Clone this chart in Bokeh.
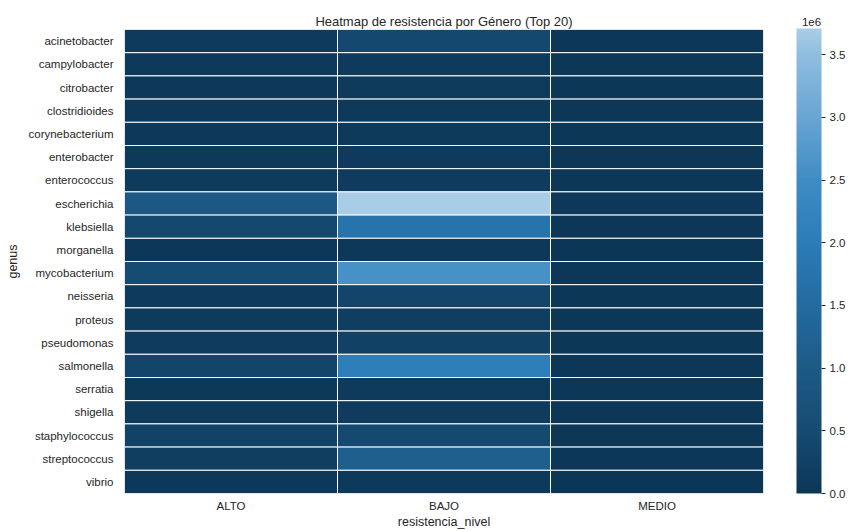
import numpy as np
from bokeh.plotting import figure
from bokeh.models import (ColumnDataSource, LinearColorMapper, ColorBar, FixedTicker,
                          CustomJSTickFormatter, Label)
from bokeh.embed import file_html
from bokeh.resources import INLINE

genera = ["acinetobacter", "campylobacter", "citrobacter", "clostridioides", "corynebacterium",
          "enterobacter", "enterococcus", "escherichia", "klebsiella", "morganella",
          "mycobacterium", "neisseria", "proteus", "pseudomonas", "salmonella",
          "serratia", "shigella", "staphylococcus", "streptococcus", "vibrio"]
levels = ["ALTO", "BAJO", "MEDIO"]

alto = [120000, 80000, 50000, 50000, 50000, 80000, 100000, 950000, 400000, 30000,
        500000, 120000, 100000, 150000, 350000, 60000, 100000, 300000, 200000, 50000]
bajo = [420000, 120000, 100000, 80000, 80000, 120000, 150000, 3710000, 1750000, 50000,
        2600000, 350000, 200000, 250000, 2050000, 100000, 150000, 450000, 1150000, 80000]
medio = [30000, 20000, 20000, 20000, 20000, 20000, 20000, 50000, 30000, 10000,
         30000, 20000, 20000, 20000, 40000, 20000, 20000, 20000, 30000, 10000]

cbar_ticks = [0, 500000, 1000000, 1500000, 2000000, 2500000, 3000000, 3500000]

# colour map (sampled from the reference colour bar)
anchor_cols = ["#0c3656", "#164c73", "#1d5a86", "#236ba0", "#2c7cb8",
               "#3f8cc4", "#68a5d3", "#8fbde0", "#a9cde6"]
anchor_pos = [0, 0.5, 1.0, 1.5, 2.0, 2.5, 3.0, 3.5, 3.71]


def hex2rgb(h):
    return [int(h[i:i + 2], 16) for i in (1, 3, 5)]


rgbs = np.array([hex2rgb(c) for c in anchor_cols], dtype=float)
pos = np.array(anchor_pos) / anchor_pos[-1]
grid = np.linspace(0, 1, 256)
palette = []
for g in grid:
    r = np.interp(g, pos, rgbs[:, 0])
    gg = np.interp(g, pos, rgbs[:, 1])
    b = np.interp(g, pos, rgbs[:, 2])
    palette.append("#%02x%02x%02x" % (int(round(r)), int(round(gg)), int(round(b))))

vmax = max(max(alto), max(bajo), max(medio))

xs, ys, vs = [], [], []
for i, gname in enumerate(genera):
    for lev, arr in zip(levels, (alto, bajo, medio)):
        xs.append(lev)
        ys.append(gname)
        vs.append(arr[i])
src = ColumnDataSource(dict(x=xs, y=ys, v=vs))

mapper = LinearColorMapper(palette=palette, low=0, high=vmax)

FONT = "Liberation Sans"
TXT = "#262626"

p = figure(x_range=levels, y_range=list(reversed(genera)), width=849, height=531,
           output_backend="svg", toolbar_location=None,
           title="Heatmap de resistencia por Género (Top 20)",
           min_border_left=124, min_border_right=86, min_border_top=29, min_border_bottom=37)

p.rect(x="x", y="y", width=1, height=1, source=src,
       fill_color={"field": "v", "transform": mapper},
       line_color="white", line_width=1)

p.title.align = "center"
p.title.text_font = FONT
p.title.text_font_size = "13px"
p.title.text_font_style = "normal"
p.title.text_color = TXT
p.title.standoff = 2

p.grid.visible = False
p.outline_line_color = None
for ax in (p.xaxis, p.yaxis):
    ax.axis_line_color = None
    ax.major_tick_line_color = None
    ax.minor_tick_line_color = None
    ax.major_tick_out = 0
    ax.major_tick_in = 0
    ax.major_label_text_font = FONT
    ax.major_label_text_font_size = "11.5px"
    ax.major_label_text_color = TXT
    ax.axis_label_text_font = FONT
    ax.axis_label_text_font_size = "12.5px"
    ax.axis_label_text_font_style = "normal"
    ax.axis_label_text_color = TXT

p.xaxis.axis_label = "resistencia_nivel"
p.yaxis.axis_label = "genus"
p.xaxis.major_label_standoff = 6
p.yaxis.major_label_standoff = 11
p.xaxis.axis_label_standoff = 0
p.yaxis.axis_label_standoff = 5

# colour-bar exponent label, drawn in canvas coordinates
p.add_layout(Label(x=811, y=21, x_units="canvas", y_units="canvas", text="1e6",
                   text_font=FONT, text_font_size="11.5px",
                   text_color=TXT, text_align="center", text_baseline="middle"), "right")

cb = ColorBar(color_mapper=mapper, width=25, height=465,
              ticker=FixedTicker(ticks=cbar_ticks),
              formatter=CustomJSTickFormatter(code="return (tick/1e6).toFixed(1);"),
              major_label_text_font=FONT, major_label_text_font_size="11.5px",
              major_label_text_color=TXT, major_tick_in=0, major_tick_out=4,
              major_tick_line_color=TXT, bar_line_color=None, padding=0, margin=0,
              label_standoff=4, location=(14, 0))
p.add_layout(cb, "right")

open("out.html", "w").write(file_html(p, INLINE))
